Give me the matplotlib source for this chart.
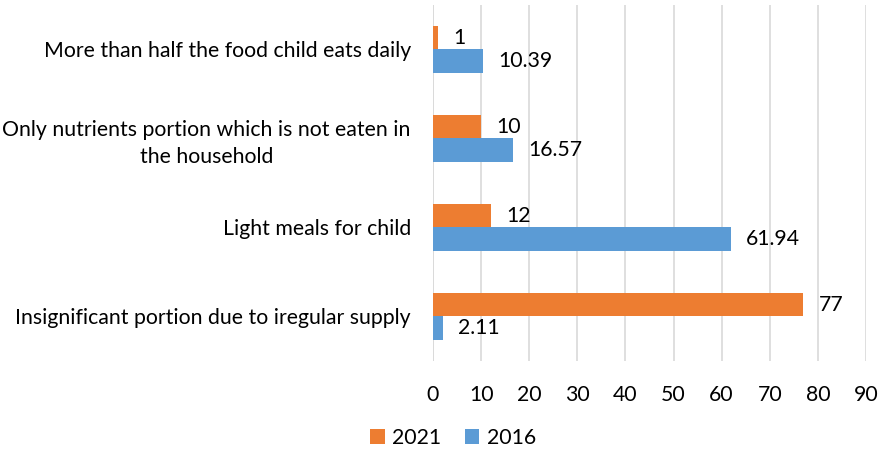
import numpy as np
import matplotlib.pyplot as plt

plt.rcParams['font.family'] = ['Lato', 'DejaVu Sans']

# categories from top to bottom
categories = [
    "More than half the food child eats daily",
    "Only nutrients portion which is not eaten in\nthe household",
    "Light meals for child",
    "Insignificant portion due to iregular supply",
]
vals_2021 = [1, 10, 12, 77]
vals_2016 = [10.39, 16.57, 61.94, 2.11]
xticks = [0, 10, 20, 30, 40, 50, 60, 70, 80, 90]

ORANGE = "#ED7D31"
BLUE = "#5B9BD5"
FS = 15.3

fig = plt.figure(figsize=(8.81, 4.54), dpi=100)
ax = fig.add_axes([0.4915, 0.205, 0.4915, 0.784])

y = np.arange(len(categories))[::-1].astype(float)
h = 0.26
b21 = ax.barh(y + h / 2, vals_2021, height=h, color=ORANGE, label="2021", zorder=3)
b16 = ax.barh(y - h / 2, vals_2016, height=h, color=BLUE, label="2016", zorder=3)

for bars, vals in ((b21, vals_2021), (b16, vals_2016)):
    for rect, v in zip(bars, vals):
        ax.annotate(f"{v:g}", (rect.get_width(), rect.get_y() + rect.get_height() / 2),
                    xytext=(11, 0), textcoords="offset points", va="center", ha="left",
                    fontsize=FS, color="#000000")

ax.set_xlim(0, 90)
ax.set_ylim(-0.5, len(categories) - 0.5)
ax.set_xticks(xticks)
ax.set_yticks(y)
ax.set_yticklabels(categories, multialignment="center", linespacing=1.4)
ax.tick_params(axis="y", length=0, pad=16, labelsize=FS)
ax.tick_params(axis="x", length=0, pad=17, labelsize=FS)
ax.grid(axis="x", color="#D9D9D9", linewidth=1.2, zorder=0)
for s in ax.spines.values():
    s.set_visible(False)
ax.axvline(0, color="#D9D9D9", linewidth=1.2, zorder=1)

fig.legend(handles=[b21, b16], loc="center", bbox_to_anchor=(0.514, 0.036), ncol=2,
           frameon=False, fontsize=FS, handlelength=0.7, handleheight=0.7,
           handletextpad=0.35, columnspacing=1.1)

fig.savefig("out.png", dpi=100)
